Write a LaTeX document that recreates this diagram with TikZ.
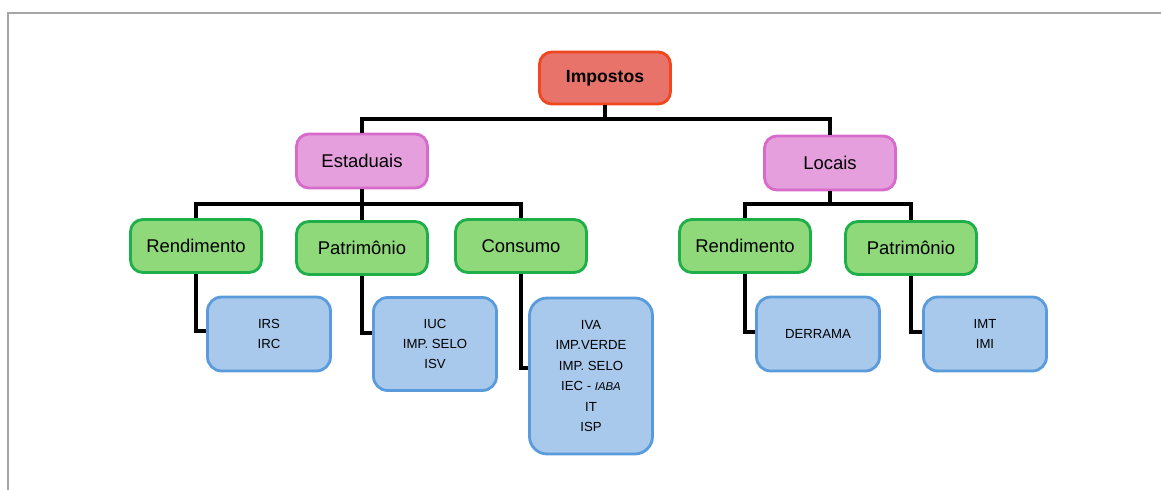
\documentclass[tikz,border=0pt]{standalone}
\usepackage{fontspec}
\setmainfont{Liberation Sans}
\usetikzlibrary{positioning}

\definecolor{impfill}{HTML}{E8736B}
\definecolor{impdraw}{HTML}{F2471E}
\definecolor{grpfill}{HTML}{E49FDC}
\definecolor{grpdraw}{HTML}{D86ACC}
\definecolor{catfill}{HTML}{8FD97A}
\definecolor{catdraw}{HTML}{1EAF4B}
\definecolor{taxfill}{HTML}{A8C9EC}
\definecolor{taxdraw}{HTML}{5A9BDB}
\definecolor{framegray}{HTML}{A6A6A6}

\tikzset{
  conn/.style={line width=2.3pt,black},
  base/.style={rounded corners=7pt,line width=1.6pt,align=center,inner sep=0pt},
  topbox/.style={base,draw=impdraw,fill=impfill,minimum width=2.62cm,minimum height=1.04cm,
    font=\fontsize{10}{12}\selectfont\bfseries},
  grpbox/.style={base,draw=grpdraw,fill=grpfill,minimum width=2.62cm,minimum height=1.08cm,
    font=\fontsize{10.5}{12.6}\selectfont},
  catbox/.style={base,draw=catdraw,fill=catfill,minimum width=2.62cm,minimum height=1.06cm,
    font=\fontsize{10.5}{12.6}\selectfont},
  taxbox/.style={base,rounded corners=8pt,draw=taxdraw,fill=taxfill,minimum width=2.46cm,
    font=\fontsize{7.5}{11.6}\selectfont},
}

\begin{document}
\begin{tikzpicture}[x=0.02cm,y=-0.02cm]
  \useasboundingbox (0,0) rectangle (1161,490);
  \draw[framegray,line width=1.2pt] (8,490) -- (8,13) -- (1161,13);

  \node[topbox] (imp) at (605,78) {Impostos};

  \node[grpbox] (est) at (362,161) {Estaduais};
  \node[grpbox] (loc) at (830,163) {Locais};

  \node[catbox] (rendE) at (196,246) {Rendimento};
  \node[catbox] (patE) at (362,248) {Patrimônio};
  \node[catbox] (cons) at (521,246) {Consumo};
  \node[catbox] (rendL) at (745,246) {Rendimento};
  \node[catbox] (patL) at (911,248) {Patrimônio};

  \node[taxbox,minimum height=1.48cm] (irs) at (269,334) {IRS\\IRC};
  \node[taxbox,minimum height=1.86cm] (iuc) at (435,344) {IUC\\IMP. SELO\\ISV};
  \node[taxbox,minimum height=3.12cm,rounded corners=10pt] (iva) at (591,376)
    {IVA\\IMP.VERDE\\IMP. SELO\\IEC - {\fontsize{6.5}{8}\selectfont\itshape IABA}\\IT\\ISP};
  \node[taxbox,minimum height=1.48cm] (derr) at (818,334) {DERRAMA};
  \node[taxbox,minimum height=1.48cm] (imt) at (985,334) {IMT\\IMI};

  \draw[conn] (imp.south) -- ++(0,14) -| (est.north);
  \draw[conn] (imp.south) -- ++(0,14) -| (loc.north);
  \foreach \n in {rendE, patE, cons}
    \draw[conn] (est.south) -- ++(0,15) -| (\n.north);
  \foreach \n in {rendL, patL}
    \draw[conn] (loc.south) -- ++(0,13) -| (\n.north);

  \draw[conn] (rendE.south) |- ([yshift=1.5pt]irs.west);
  \draw[conn] (patE.south) |- ([yshift=6pt]iuc.west);
  \draw[conn] (cons.south) |- ([yshift=4.5pt]iva.west);
  \draw[conn] (rendL.south) |- ([yshift=1pt]derr.west);
  \draw[conn] (patL.south) |- ([yshift=1pt]imt.west);
\end{tikzpicture}
\end{document}
